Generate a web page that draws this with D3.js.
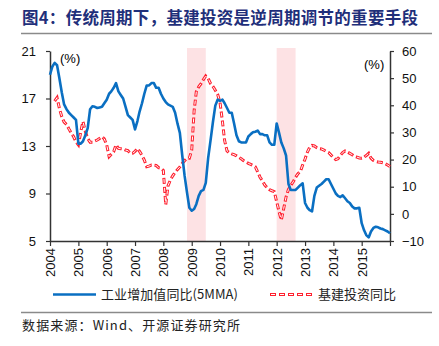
<!DOCTYPE html>
<html lang="zh">
<head>
<meta charset="utf-8">
<title>基建投资与工业增加值</title>
<script src="https://cdn.jsdelivr.net/npm/d3@7"></script>
<style>
  html, body { margin: 0; padding: 0; background: #fff; overflow: hidden; }
  svg { display: block; }
  .tick text { font-family: "Liberation Sans", Arial, sans-serif; font-size: 13px; fill: #111; }
</style>
</head>
<body>
<svg id="chart" width="439" height="346"></svg>
<script>
// 工业增加值同比(5MMA)，月度，2004-01 起
const ipStart = "2004-01";
const ipValues = [
  19.0, 19.7, 20.0, 19.8, 18.7, 17.5, 16.5, 16.1, 15.8, 15.6, 15.4, 15.2,
  13.2, 13.2, 13.4, 13.9, 14.5, 16.1, 16.35, 16.3, 16.2, 16.25, 16.3, 16.6,
  16.9, 17.4, 17.6, 17.9, 18.3, 17.6, 17.3, 17.0, 16.3, 15.6, 15.4, 15.2,
  14.4, 15.1, 15.9, 16.6, 17.4, 18.1, 18.1, 18.3, 18.3, 17.9, 17.9, 17.4,
  17.0, 16.7, 16.5, 16.4, 16.3, 15.8, 14.9, 14.1, 12.2, 10.5, 9.1, 7.8,
  7.55, 7.7, 8.1, 8.8, 9.2, 9.3, 9.9, 12.0, 13.5, 15.0, 16.4, 16.9,
  16.8, 16.9, 16.6, 16.2, 15.8, 15.8, 14.9, 13.9, 13.4, 13.3, 13.3, 13.3,
  13.8, 14.0, 14.15, 14.2, 14.3, 14.0, 14.0, 13.9, 13.9, 13.3, 13.1, 13.1,
  14.9, 14.1, 13.3, 12.8, 12.2, 9.8, 9.3, 9.3, 9.3, 9.5, 9.7, 9.85,
  8.2, 7.8, 7.6, 7.5, 8.8, 9.5, 9.65, 9.8, 10.0, 10.2, 10.2, 9.8,
  9.4, 9.0, 8.8, 8.7, 8.85, 8.6, 8.35, 8.2, 7.9, 7.75, 7.75, 7.8,
  6.5, 5.9, 5.5, 5.3, 5.8, 6.1, 6.2, 6.15, 6.05, 6.0, 5.9, 5.8,
  5.65
];

// 基建投资同比，月度，2004-03 起
const infraStart = "2004-03";
const infraValues = [
  41.5, 42.8, 38.9, 35.8, 33.8, 33.0, 31.3, 29.8, 28.4, 26.5,
  25.4, 30.3, 34.0, 30.3, 27.8, 26.4, 26.4, 26.8, 27.2, 27.8, 28.4, 27.6,
  25.4, 21.1, 22.0, 22.9, 25.4, 24.1, 24.0, 23.9, 23.5, 23.3, 22.3, 22.3,
  23.0, 24.1, 23.0, 21.5, 19.8, 17.4, 17.6, 18.0, 17.9, 17.8, 17.0, 16.8,
  16.0, 3.4, 10.3, 12.5, 14.0, 15.3, 16.3, 17.3, 18.6, 19.6, 20.5, 20.5,
  23.5, 38.0, 45.0, 46.8, 48.0, 49.5, 50.8, 49.9, 48.0, 47.0, 45.5, 44.0,
  41.0, 34.0, 27.0, 23.2, 22.5, 22.1, 21.8, 21.4, 20.8, 20.3, 19.6, 19.1,
  18.6, 18.2, 17.8, 17.3, 15.5, 13.5, 12.2, 10.6, 9.6, 8.9, 8.5, 8.2,
  4.5, 0.8, -2.3, 2.0, 6.2, 9.0, 10.5, 11.8, 13.5, 14.8, 15.6, 18.0,
  20.2, 22.8, 24.5, 25.2, 25.0, 24.4, 24.0, 23.9, 23.5, 23.0, 22.6, 21.7,
  20.7, 20.0, 20.3, 21.5, 22.6, 23.2, 22.8, 22.3, 21.8, 21.2, 20.9, 20.6,
  20.5, 20.9, 21.5, 22.3, 20.5, 19.7, 19.3, 19.1, 19.0, 18.8, 18.5, 18.0,
  17.4
];

// 逆周期调节阶段
const bandStarts = ["2008-11", "2012-01"];
const bandEnds = ["2009-07", "2012-09"];

const leftTicks = [5, 9, 13, 17, 21];
const rightTicks = [-10, 0, 10, 20, 30, 40, 50, 60];
const yearTicks = d3.range(2004, 2017);

const titleText = "图4：传统周期下，基建投资是逆周期调节的重要手段";
const sourceText = "数据来源：Wind、开源证券研究所";
const ipName = "工业增加值同比(5MMA)";
const infraName = "基建投资同比";

const parseMonth = d3.timeParse("%Y-%m");
const toSeries = (start, values) => {
  const t0 = parseMonth(start);
  return values.map((v, i) => ({ date: d3.timeMonth.offset(t0, i), value: v }));
};
const ipData = toSeries(ipStart, ipValues);
const infraData = toSeries(infraStart, infraValues);

const svg = d3.select("#chart");
const margin = { left: 50, right: 49, top: 51, bottom: 105 };
const W = 439, H = 346;

const x = d3.scaleTime()
  .domain([new Date(2004, 0, 1), new Date(2016, 0, 1)])
  .range([margin.left, W - margin.right]);
const yL = d3.scaleLinear().domain([5, 21]).range([H - margin.bottom, margin.top]);
const yR = d3.scaleLinear().domain([-10, 60]).range([H - margin.bottom, margin.top]);

// title and rules
svg.append("text")
  .attr("x", 22).attr("y", 24)
  .attr("font-family", "'Noto Sans CJK SC', sans-serif")
  .attr("font-weight", "bold")
  .attr("font-size", 16.5)
  .attr("fill", "#1f2f7a")
  .attr("textLength", 396)
  .attr("lengthAdjust", "spacing")
  .text(titleText);
svg.append("line").attr("x1", 21).attr("x2", 432).attr("y1", 33.5).attr("y2", 33.5)
  .attr("stroke", "#8a8a8a").attr("stroke-width", 1.5);
svg.append("line").attr("x1", 21).attr("x2", 432).attr("y1", 312.5).attr("y2", 312.5)
  .attr("stroke", "#8a8a8a").attr("stroke-width", 1.5);

// shaded periods
svg.append("g").selectAll("rect")
  .data(bandStarts.map((s, i) => [parseMonth(s), parseMonth(bandEnds[i])]))
  .join("rect")
  .attr("x", d => x(d[0]))
  .attr("width", d => x(d[1]) - x(d[0]))
  .attr("y", 48)
  .attr("height", yL(5) - 48)
  .attr("fill", "#fde2e4");

// axes
const axisStyle = g => {
  g.select(".domain").attr("stroke", "#333").attr("stroke-width", 1.5);
  g.selectAll(".tick line").attr("stroke", "#333").attr("stroke-width", 1.2);
};

svg.append("g")
  .attr("transform", `translate(${margin.left},0)`)
  .call(d3.axisLeft(yL).tickValues(leftTicks).tickSize(4).tickSizeOuter(0).tickPadding(10))
  .call(axisStyle);

svg.append("g")
  .attr("transform", `translate(${W - margin.right},0)`)
  .call(d3.axisRight(yR).tickValues(rightTicks).tickSize(4).tickSizeOuter(0).tickPadding(8))
  .call(axisStyle);

const xAxis = svg.append("g")
  .attr("transform", `translate(0,${yL(5)})`)
  .call(d3.axisBottom(x)
    .tickValues(yearTicks.map(y => new Date(y, 0, 1)))
    .tickSize(5).tickSizeOuter(0)
    .tickFormat(d => d.getFullYear() < 2016 ? d3.timeFormat("%Y")(d) : ""))
  .call(axisStyle);
xAxis.selectAll(".tick text")
  .attr("transform", "rotate(-90)")
  .attr("text-anchor", "end")
  .attr("x", -7).attr("y", 0).attr("dy", "0.35em");

// unit labels
svg.append("text").attr("x", 60).attr("y", 63)
  .attr("font-family", "'Liberation Sans', Arial, sans-serif").attr("font-size", 13)
  .text("(%)");
svg.append("text").attr("x", 364).attr("y", 69)
  .attr("font-family", "'Liberation Sans', Arial, sans-serif").attr("font-size", 13)
  .text("(%)");

// lines
const lineL = d3.line().x(d => x(d.date)).y(d => yL(d.value));
const lineR = d3.line().x(d => x(d.date)).y(d => yR(d.value));

// hollow red dashes: red dash with a thin white core
svg.append("path").datum(infraData)
  .attr("d", lineR).attr("fill", "none")
  .attr("stroke", "#ff1f2e").attr("stroke-width", 3)
  .attr("stroke-dasharray", "6 3");
svg.append("path").datum(infraData)
  .attr("d", lineR).attr("fill", "none")
  .attr("stroke", "#fff").attr("stroke-width", 1)
  .attr("stroke-dasharray", "4 5").attr("stroke-dashoffset", -1);

svg.append("path").datum(ipData)
  .attr("d", lineL).attr("fill", "none")
  .attr("stroke", "#0a6fc2").attr("stroke-width", 2.6)
  .attr("stroke-linejoin", "round");

// legend
const legend = svg.append("g").attr("font-family", "'Noto Sans CJK SC', sans-serif").attr("font-size", 13);
legend.append("line").attr("x1", 53).attr("x2", 96).attr("y1", 294.5).attr("y2", 294.5)
  .attr("stroke", "#0a6fc2").attr("stroke-width", 2.6);
legend.append("text").attr("x", 101).attr("y", 299).attr("fill", "#222")
  .attr("textLength", 137).attr("lengthAdjust", "spacing").text(ipName);
legend.append("line").attr("x1", 270).attr("x2", 313).attr("y1", 294.5).attr("y2", 294.5)
  .attr("stroke", "#ff1f2e").attr("stroke-width", 3).attr("stroke-dasharray", "6 3");
legend.append("line").attr("x1", 270).attr("x2", 313).attr("y1", 294.5).attr("y2", 294.5)
  .attr("stroke", "#fff").attr("stroke-width", 1).attr("stroke-dasharray", "4 5").attr("stroke-dashoffset", -1);
legend.append("text").attr("x", 318).attr("y", 299).attr("fill", "#222").text(infraName);

// source note
svg.append("text").attr("x", 22).attr("y", 330)
  .attr("font-family", "'Noto Sans CJK SC', sans-serif").attr("font-size", 13)
  .attr("fill", "#222")
  .attr("textLength", 218).attr("lengthAdjust", "spacing")
  .text(sourceText);
</script>
</body>
</html>
